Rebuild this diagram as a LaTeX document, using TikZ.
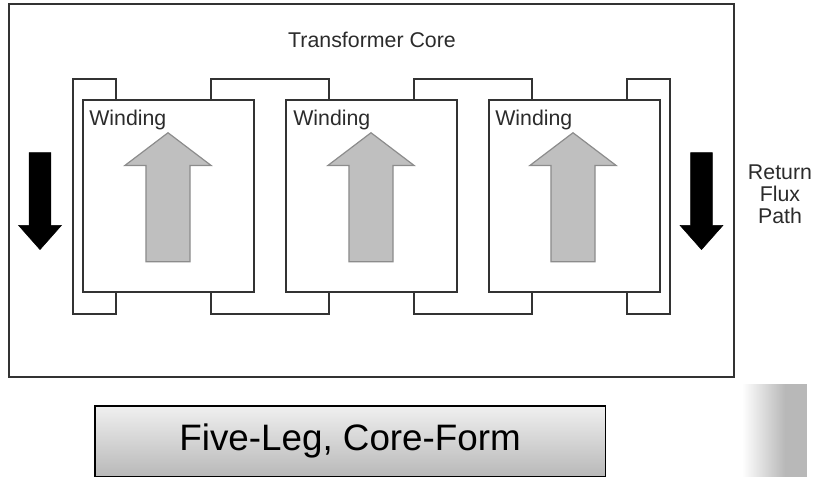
\documentclass[tikz,border=0pt]{standalone}
\usepackage{fontspec}
\setmainfont{Liberation Sans}
\usetikzlibrary{positioning}
\usetikzlibrary{shapes.arrows}
\definecolor{linegray}{HTML}{333333}
\definecolor{fluxgray}{HTML}{BFBFBF}
\definecolor{rimgray}{HTML}{8C8C8C}
\definecolor{textgray}{HTML}{2B2B2B}
\definecolor{stripegray}{HTML}{B8B8B8}

\begin{document}
\begin{tikzpicture}
    [
      x=0.75pt, y=-0.75pt,
      % style for the frame and the core
      frame/.style={draw=linegray, line width=1.5pt},
      % style for the windings
      winding/.style={rectangle, draw=linegray, line width=1.5pt, outer sep=0pt, minimum width=128.6pt, minimum height=144pt},
      % style for the texts
      txt/.style={font=\fontsize{16}{16.5}\selectfont, text=textgray, inner sep=0pt},
      % style for the arrows
      upflux/.style={single arrow, shape border rotate=90, anchor=tip, inner sep=0pt, text width=32.2pt, fill=fluxgray, draw=rimgray, line width=0.9pt, minimum width=64.5pt, minimum height=96.8pt, single arrow head extend=15.75pt, single arrow tip angle=105.6},
      downflux/.style={single arrow, shape border rotate=270, anchor=tip, inner sep=0pt, text width=16pt, fill=black, draw=black, line width=0.4pt, minimum width=32.2pt, minimum height=72.7pt, single arrow head extend=7.9pt, single arrow tip angle=83},
      node distance=23.6pt]
    \useasboundingbox (0,0) rectangle (813,477);
    % outer frame
    \draw[frame] (8.5,4) rectangle (734,377);
    % core
    \draw[frame]
      (116,100) -- (116,79) -- (72.5,79) -- (72.5,313.5) -- (116,313.5) -- (116,292)
      (211,100) -- (211,79) -- (329,79) -- (329,100)
      (414,100) -- (414,79) -- (532,79) -- (532,100)
      (627,100) -- (627,79) -- (670,79) -- (670,313.5) -- (627,313.5) -- (627,292)
      (211,292) -- (211,313.5) -- (329,313.5) -- (329,292)
      (414,292) -- (414,313.5) -- (532,313.5) -- (532,292);
    % windings
    \node[winding, anchor=north west] (winding1) at (83,100) {};
    \node[winding, right=of winding1] (winding2) {};
    \node[winding, right=of winding2] (winding3) {};
    \node[txt, anchor=base west] (text1) at (89,125.5) {Winding};
    \node[txt, anchor=base west] (text2) at (293,125.5) {Winding};
    \node[txt, anchor=base west] (text3) at (495,125.5) {Winding};
    % flux arrows
    \node[upflux] (flux1) at (168,132) {};
    \node[upflux] (flux2) at (371,132) {};
    \node[upflux] (flux3) at (573,132) {};
    \node[downflux] (return1) at (40,250) {};
    \node[downflux] (return2) at (701.5,250) {};
    % texts
    \node[txt] (core) at (372,40) {Transformer Core};
    \node[txt, align=center] (path) at (780,194.5) {Return\\Flux\\Path};
    % title and stripe
    \node[rectangle, draw=black, line width=1.2pt, top color=black!6, bottom color=stripegray, minimum width=383pt, minimum height=53.4pt, anchor=north west, font=\fontsize{27.6}{30}\selectfont] (title) at (94,405) {Five-Leg, Core-Form};
    \fill[left color=white, right color=stripegray] (742,384) rectangle (785,477);
    \fill[stripegray] (785,384) rectangle (807,477);
  \end{tikzpicture}
\end{document}
